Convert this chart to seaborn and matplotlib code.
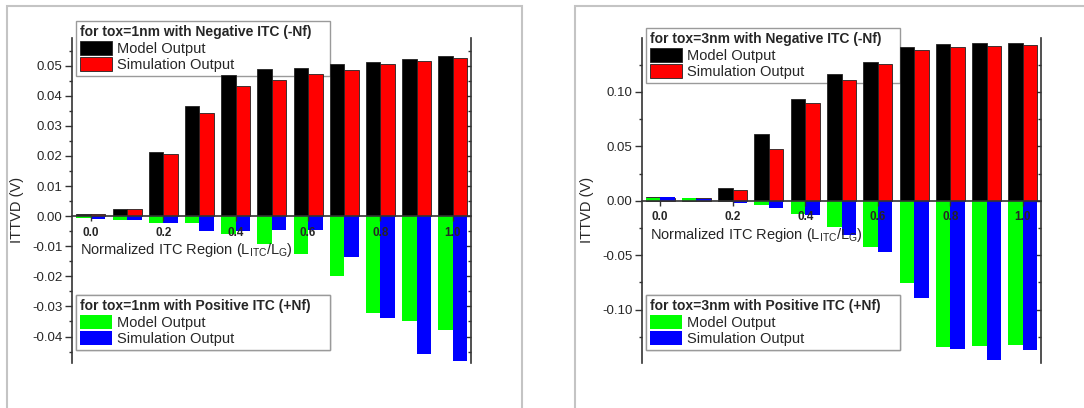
import matplotlib
matplotlib.use("Agg")
import matplotlib.pyplot as plt
import pandas as pd
import seaborn as sns
from matplotlib.patches import Rectangle
from matplotlib.ticker import MultipleLocator, FormatStrFormatter

# Normalized ITC region (L_ITC / L_G)
regions = ['0.0', '0.1', '0.2', '0.3', '0.4', '0.5', '0.6', '0.7', '0.8', '0.9', '1.0']

# tox = 1nm, negative ITC (-Nf)
neg_model_1nm = [0.0007, 0.0024, 0.0212, 0.0365, 0.0468, 0.0488, 0.0493, 0.0504, 0.0512, 0.0521, 0.0531]
neg_sim_1nm = [0.0006, 0.0024, 0.0205, 0.0343, 0.0434, 0.0453, 0.0473, 0.0485, 0.0507, 0.0517, 0.0525]
# tox = 1nm, positive ITC (+Nf)
pos_model_1nm = [-0.0006, -0.0012, -0.0024, -0.0024, -0.0058, -0.0091, -0.0126, -0.0198, -0.0321, -0.0349, -0.0377]
pos_sim_1nm = [-0.0008, -0.0012, -0.0024, -0.0049, -0.0048, -0.0047, -0.0047, -0.0137, -0.0337, -0.0457, -0.0480]

# tox = 3nm, negative ITC (-Nf)
neg_model_3nm = [0.0033, 0.0030, 0.0117, 0.0613, 0.0935, 0.1165, 0.1275, 0.1409, 0.1440, 0.1452, 0.1452]
neg_sim_3nm = [0.0030, 0.0030, 0.0101, 0.0475, 0.0900, 0.1110, 0.1256, 0.1381, 0.1409, 0.1422, 0.1434]
# tox = 3nm, positive ITC (+Nf)
pos_model_3nm = [0.0030, 0.0028, -0.0006, -0.0039, -0.0120, -0.0245, -0.0420, -0.0751, -0.1339, -0.1333, -0.1327]
pos_sim_3nm = [0.0033, 0.0020, -0.0020, -0.0069, -0.0135, -0.0312, -0.0466, -0.0892, -0.1360, -0.1464, -0.1370]

series = ['Model Output', 'Simulation Output']

sns.set_style("ticks")
plt.rcParams['font.family'] = ['Liberation Sans', 'DejaVu Sans']
plt.rcParams['mathtext.fontset'] = 'custom'
plt.rcParams['mathtext.rm'] = 'Liberation Sans'
plt.rcParams['mathtext.it'] = 'Liberation Sans:italic'

W, H = 1084, 408
fig = plt.figure(figsize=(W / 100, H / 100), dpi=100)
fig.patch.set_facecolor('white')


def to_frame(model, sim):
    return pd.DataFrame({
        'region': regions * 2,
        'ittvd': list(model) + list(sim),
        'series': [series[0]] * len(regions) + [series[1]] * len(regions),
    })


def make_legend(ax, handles, title, x_px, y_px, w_px=254):
    leg = ax.legend(handles=handles, labels=series, title=title,
                    loc='upper left', mode='expand',
                    bbox_to_anchor=(x_px / W, 1 - y_px / H, w_px / W, 0),
                    bbox_transform=fig.transFigure, frameon=True, fancybox=False,
                    framealpha=1, edgecolor='#9a9a9a', borderaxespad=0,
                    borderpad=0.3, labelspacing=0.08, handlelength=2.2,
                    handleheight=1.12, handletextpad=0.3, fontsize=10.5,
                    title_fontproperties={'weight': 'bold', 'size': 10})
    leg._legend_box.align = 'left'
    leg.get_frame().set_linewidth(1.0)
    # bars are drawn over the legend box in the original
    leg.set_zorder(0.8)
    ax.add_artist(leg)
    return leg


def draw_panel(ax, tox, neg_model, neg_sim, pos_model, pos_sim, ylim, major, minor,
               xlim_left, leg_top, xlabel_y):
    sns.barplot(data=to_frame(neg_model, neg_sim), x='region', y='ittvd', hue='series',
                order=regions, hue_order=series, palette=['#000000', '#ff0000'],
                saturation=1, width=0.8, edgecolor='#222222', linewidth=0.6,
                legend=False, ax=ax)
    sns.barplot(data=to_frame(pos_model, pos_sim), x='region', y='ittvd', hue='series',
                order=regions, hue_order=series, palette=['#00ff00', '#0000ff'],
                saturation=1, width=0.8, edgecolor='none', linewidth=0,
                legend=False, ax=ax)

    ax.set_axisbelow(False)
    ax.set_xlim(xlim_left, 10.5)
    ax.set_ylim(*ylim)

    # zero line acts as x axis
    ax.spines['bottom'].set_position(('data', 0))
    ax.spines['top'].set_visible(False)
    ax.spines['right'].set_visible(False)
    for s in ['left', 'bottom']:
        ax.spines[s].set_linewidth(1.2)
        ax.spines[s].set_color('#333333')

    ax.set_xticks(range(0, 11, 2))
    ax.set_xticklabels(regions[::2], fontweight='bold', fontsize=8.5)
    ax.tick_params(axis='x', length=3.5, width=1, pad=4, color='#333333')

    ax.yaxis.set_major_locator(MultipleLocator(major))
    ax.yaxis.set_minor_locator(MultipleLocator(minor))
    ax.yaxis.set_major_formatter(FormatStrFormatter('%.2f'))
    ax.tick_params(axis='y', which='major', direction='out', length=5, width=1,
                   labelsize=9.5, pad=2, color='#333333')
    ax.tick_params(axis='y', which='minor', direction='out', length=2.5, width=1,
                   color='#333333')

    # right axis with inward ticks
    sec = ax.secondary_yaxis('right')
    sec.yaxis.set_major_locator(MultipleLocator(major))
    sec.yaxis.set_minor_locator(MultipleLocator(minor))
    sec.tick_params(which='major', direction='in', length=5, width=1,
                    labelright=False, color='#333333')
    sec.tick_params(which='minor', direction='in', length=2.5, width=1, color='#333333')
    sec.spines['right'].set_linewidth(1.2)
    sec.spines['right'].set_color('#333333')

    ax.set_xlabel('')
    ax.set_ylabel('ITTVD (V)', fontsize=10.5)
    ax.yaxis.set_label_coords(-0.12, 0.47)
    ax.text(0.02, xlabel_y, r'Normalized ITC Region (L$_{\mathrm{ITC}}$/L$_{\mathrm{G}}$)',
            transform=ax.transAxes, fontsize=10.5, ha='left', va='center')

    c = ax.containers
    pos = ax.get_position()
    x_leg = pos.x0 * W + 4
    make_legend(ax, [c[0], c[1]], f'for tox={tox} with Negative ITC (-Nf)', x_leg, leg_top)
    make_legend(ax, [c[2], c[3]], f'for tox={tox} with Positive ITC (+Nf)', x_leg, 295)


ax_bottom = (H - 363) / H
ax_height = 325 / H
ax1 = fig.add_axes([72 / W, ax_bottom, 399 / W, ax_height])
ax2 = fig.add_axes([642 / W, ax_bottom, 399 / W, ax_height])

draw_panel(ax1, '1nm', neg_model_1nm, neg_sim_1nm, pos_model_1nm, pos_sim_1nm,
           (-0.0488, 0.0592), 0.01, 0.005, -0.52, 21, 0.348)
draw_panel(ax2, '3nm', neg_model_3nm, neg_sim_3nm, pos_model_3nm, pos_sim_3nm,
           (-0.149, 0.1495), 0.05, 0.025, -0.5, 28, 0.394)

# light grey frames around each panel
for x0, x1 in [(7, 522), (575, 1095)]:
    fig.add_artist(Rectangle((x0 / W, -0.05), (x1 - x0) / W, 1.05 - 6 / H,
                             transform=fig.transFigure, fill=False,
                             edgecolor='#c4c4c4', linewidth=1.5))

fig.savefig('out.png', dpi=100, facecolor='white')
